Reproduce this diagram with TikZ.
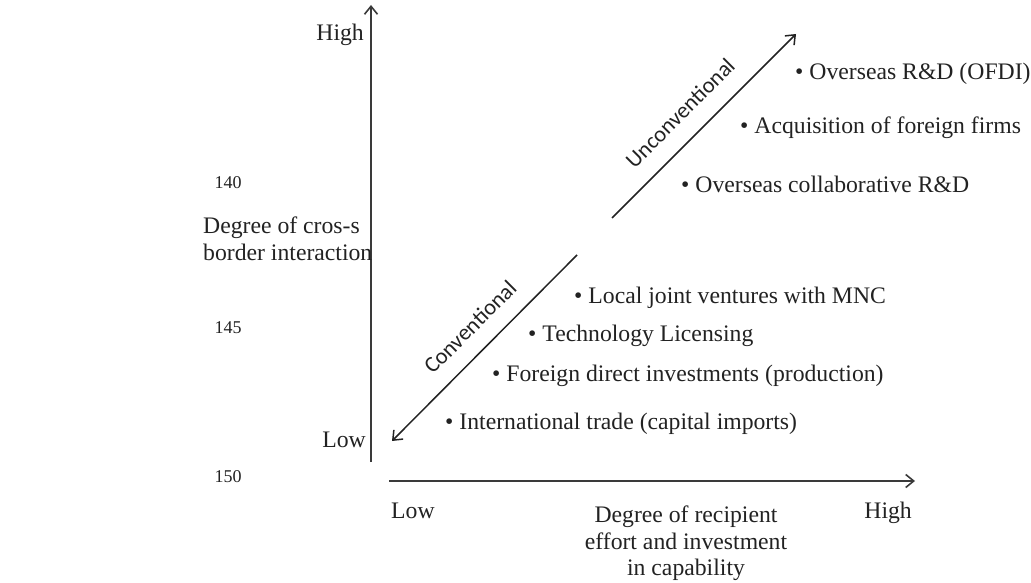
\documentclass[tikz,border=0pt]{standalone}
\usepackage{fontspec}
\setmainfont{Liberation Serif}
\newfontfamily\calib{Carlito}
\usetikzlibrary{arrows.meta}
\definecolor{ink}{HTML}{222222}
\definecolor{axisc}{HTML}{3A3A3A}
\tikzset{
  txt/.style={font=\fontsize{23.7}{26.5}\selectfont, text=ink, inner sep=0pt},
  item/.style={txt, anchor=base west},
  lineno/.style={font=\fontsize{18}{20}\selectfont, text=ink, inner sep=0pt, anchor=base},
  diaglabel/.style={font=\calib\fontsize{22.5}{24}\selectfont, text=ink, inner sep=0pt, rotate=45},
  axisline/.style={draw=axisc, line width=2pt, -{Straight Barb[length=8pt,width=13pt,line width=1.6pt]}},
  diagline/.style={draw=ink, line width=1.5pt, -{Straight Barb[length=8pt,width=13pt,line width=1.5pt]}}
}
\begin{document}
\begin{tikzpicture}[x=1pt,y=-1pt]
\useasboundingbox (0,0) rectangle (1031,583);
% axes
\coordinate (vb) at (371,462);
\coordinate (vt) at (371,5);
\coordinate (hl) at (389,481);
\coordinate (hr) at (915,481);
\draw[axisline] (vb) -- (vt);
\draw[axisline] (hl) -- (hr);
% diagonals
\coordinate (ua) at (612,218);
\coordinate (ub) at (796,34);
\coordinate (ca) at (577,255);
\coordinate (cb) at (392,441);
\draw[diagline] (ua) -- (ub);
\draw[diagline] (ca) -- (cb);
\node[diaglabel] (unc) at (680,113) {Unconventional};
\node[diaglabel] (con) at (470,327) {Conventional};
% axis labels
\node[txt, anchor=base east] (vhigh) at (364,41) {High};
\node[txt, anchor=base east] (vlow) at (366,447) {Low};
\node[txt, anchor=base west] (hlow) at (391,518) {Low};
\node[txt, anchor=base east] (hhigh) at (912,518) {High};
\node[txt, anchor=north west, align=left] (ylab) at (203,217) {Degree of cros-s\\border interaction};
\node[txt, anchor=north, align=center] (xlab) at (686,506) {Degree of recipient\\effort and investment\\in capability};
% line numbers
\node[lineno] (n140) at (228,189) {140};
\node[lineno] (n145) at (228,333) {145};
\node[lineno] (n150) at (228,482) {150};
% items
\node[item] (i1) at (795,80) {\textbullet\ Overseas R\&D (OFDI)};
\node[item] (i2) at (740,134) {\textbullet\ Acquisition of foreign firms};
\node[item] (i3) at (681,193) {\textbullet\ Overseas collaborative R\&D};
\node[item] (i4) at (574,303) {\textbullet\ Local joint ventures with MNC};
\node[item] (i5) at (528,341) {\textbullet\ Technology Licensing};
\node[item] (i6) at (492,381) {\textbullet\ Foreign direct investments (production)};
\node[item] (i7) at (445,429) {\textbullet\ International trade (capital imports)};
\end{tikzpicture}
\end{document}
